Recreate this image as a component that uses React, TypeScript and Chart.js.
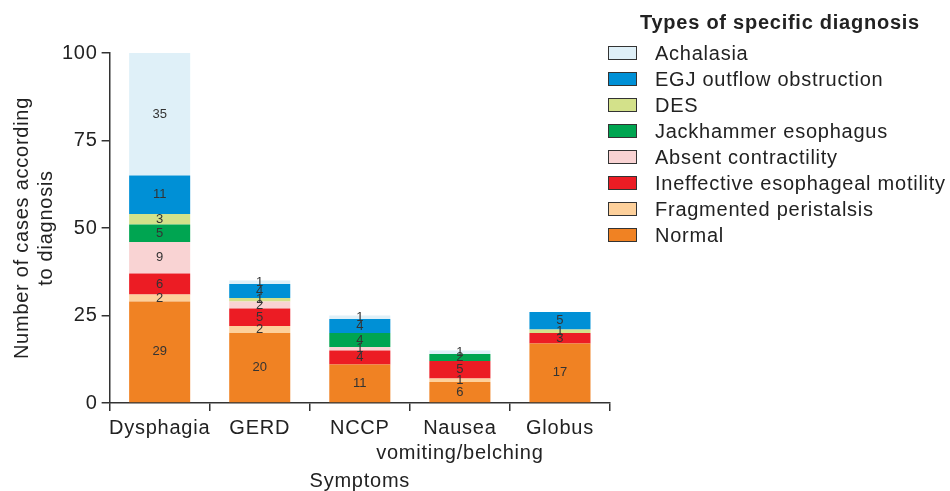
import React, { useEffect, useRef } from "react";
import { Chart, registerables } from "chart.js";

Chart.register(...registerables);

const categories: (string | string[])[] = ["Dysphagia", "GERD", "NCCP", ["Nausea", "vomiting/belching"], "Globus"];

const normal = [29, 20, 11, 6, 17];
const fragmented = [2, 2, 0, 1, 0];
const ineffective = [6, 5, 4, 5, 3];
const absent = [9, 2, 1, 0, 0];
const jackhammer = [5, 0, 4, 2, 0];
const des = [3, 1, 0, 0, 1];
const egj = [11, 4, 4, 0, 5];
const achalasia = [35, 1, 1, 1, 0];

const seriesNames = [
  "Normal",
  "Fragmented peristalsis",
  "Ineffective esophageal motility",
  "Absent contractility",
  "Jackhammer esophagus",
  "DES",
  "EGJ outflow obstruction",
  "Achalasia",
];
const seriesValues = [normal, fragmented, ineffective, absent, jackhammer, des, egj, achalasia];
const seriesColors = ["#f08223", "#fdd09b", "#ec1c24", "#f9d3d3", "#00a551", "#d3e18a", "#0090d6", "#dff0f8"];

const yTicks = [0, 25, 50, 75, 100];
const legendTitle = "Types of specific diagnosis";

const FONT = "'Liberation Sans', Arial, sans-serif";
const SPACING = "0.75px";

const letterSpacingPlugin = {
  id: "letterSpacing",
  beforeInit(chart: any) {
    chart.ctx.letterSpacing = SPACING;
  },
  beforeLayout(chart: any) {
    chart.ctx.letterSpacing = SPACING;
  },
  beforeDraw(chart: any) {
    chart.ctx.letterSpacing = SPACING;
  },
};

const segmentLabels = {
  id: "segmentLabels",
  afterDatasetsDraw(chart: any) {
    const ctx = chart.ctx;
    ctx.save();
    ctx.letterSpacing = "0px";
    ctx.font = `13px ${FONT}`;
    ctx.fillStyle = "#333";
    ctx.textAlign = "center";
    ctx.textBaseline = "middle";
    chart.data.datasets.forEach((ds: any, di: number) => {
      const meta = chart.getDatasetMeta(di);
      meta.data.forEach((el: any, i: number) => {
        const v = ds.data[i];
        if (!v) return;
        ctx.fillText(String(v), el.x, (el.y + el.base) / 2);
      });
    });
    ctx.restore();
  },
};

export default function App() {
  const ref = useRef<HTMLCanvasElement>(null);
  useEffect(() => {
    document.body.style.margin = "0";
    const chart = new Chart(ref.current!, {
      type: "bar",
      data: {
        labels: categories as any,
        datasets: seriesNames.map((n, i) => ({
          label: n,
          data: seriesValues[i],
          backgroundColor: seriesColors[i],
          borderWidth: 0,
          barPercentage: 0.61,
          categoryPercentage: 1,
        })),
      },
      options: {
        animation: false,
        responsive: true,
        maintainAspectRatio: false,
        layout: { padding: { top: 53, right: 340, left: 10, bottom: 0 } },
        plugins: {
          tooltip: { enabled: false },
          legend: { display: false },
        },
        scales: {
          x: {
            stacked: true,
            offset: true,
            border: { color: "#333", width: 1.5 },
            grid: { display: true, drawOnChartArea: false, offset: true, tickLength: 8, color: "#333", lineWidth: 1.5 },
            ticks: { color: "#222", font: { family: FONT, size: 20, lineHeight: 1.25 }, padding: 5, maxRotation: 0, autoSkip: false },
            title: { display: true, text: "Symptoms", color: "#222", font: { family: FONT, size: 20, lineHeight: 1.0 }, padding: { top: 0, bottom: 0 } },
          },
          y: {
            stacked: true,
            min: 0,
            max: 100,
            afterBuildTicks(axis: any) {
              axis.ticks = yTicks.map((v) => ({ value: v }));
            },
            border: { color: "#333", width: 1.5 },
            grid: { display: true, drawOnChartArea: false, tickLength: 8, color: "#333", lineWidth: 1.5 },
            ticks: { color: "#222", font: { family: FONT, size: 20 }, padding: 4 },
            title: {
              display: true,
              text: ["Number of cases according", "to diagnosis"],
              color: "#222",
              font: { family: FONT, size: 20, lineHeight: 1.2 },
              padding: { top: 0, bottom: 0 },
            },
          },
        },
      },
      plugins: [letterSpacingPlugin, segmentLabels],
    });
    return () => chart.destroy();
  }, []);
  const legendItems = seriesNames.map((n, i) => ({ name: n, color: seriesColors[i] })).reverse();
  return (
    <div style={{ position: "relative", width: 950, height: 491 }}>
      <canvas ref={ref} />
      <div
        style={{
          position: "absolute",
          left: 608,
          top: 9,
          fontFamily: FONT,
          fontSize: 20,
          letterSpacing: SPACING,
          lineHeight: "26px",
          color: "#222",
          whiteSpace: "nowrap",
        }}
      >
        <div style={{ fontWeight: "bold", paddingLeft: 32, marginBottom: 5 }}>{legendTitle}</div>
        {legendItems.map((it) => (
          <div key={it.name} style={{ display: "flex", alignItems: "center", height: 26 }}>
            <span
              style={{
                display: "inline-block",
                width: 27,
                height: 12,
                background: it.color,
                border: "1px solid #333",
                marginRight: 18,
              }}
            />
            <span>{it.name}</span>
          </div>
        ))}
      </div>
    </div>
  );
}
